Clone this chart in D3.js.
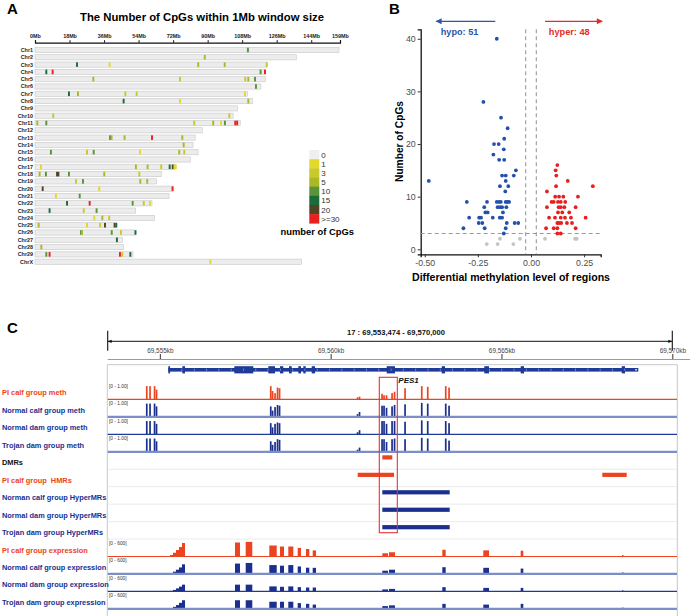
<!DOCTYPE html>
<html><head><meta charset="utf-8">
<script src="https://cdn.jsdelivr.net/npm/d3@7"></script>
<style>body{margin:0;background:#fff} svg{display:block;font-family:"Liberation Sans",Arial,Helvetica,sans-serif}</style>
</head><body><svg id="c" width="694" height="616"></svg>
<script>
// ================= DATA =================
// Panel A
const chromosomes = ["Chr1","Chr2","Chr3","Chr4","Chr5","Chr6","Chr7","Chr8","Chr9","Chr10","Chr11","Chr12","Chr13","Chr14","Chr15","Chr16","Chr17","Chr18","Chr19","Chr20","Chr21","Chr22","Chr23","Chr24","Chr25","Chr26","Chr27","Chr28","Chr29","ChrX"];
const chromLengthsMb = [158.5,136.2,121.0,120.0,120.1,117.8,110.7,113.3,105.5,103.3,107.0,87.2,83.5,82.4,85.0,81.0,73.2,65.8,63.4,72.0,69.9,61.0,52.5,62.3,42.4,52.0,45.6,46.1,51.1,139.0];
const axisTicksMb = [0,18,36,54,72,90,108,126,144,159];
const legendLabels = ["0","1","3","5","10","15","20",">=30"];
const legendColors = ["#efefef","#e3d92a","#c8c92a","#a9b824","#5a9338","#1d6b3b","#4f4423","#e8201f"];
const markChr = ["Chr1","Chr2","Chr3","Chr3","Chr3","Chr3","Chr3","Chr4","Chr4","Chr4","Chr4","Chr5","Chr5","Chr5","Chr5","Chr5","Chr6","Chr7","Chr7","Chr7","Chr7","Chr7","Chr8","Chr8","Chr8","Chr10","Chr10","Chr11","Chr11","Chr11","Chr11","Chr11","Chr11","Chr11","Chr11","Chr13","Chr13","Chr13","Chr13","Chr13","Chr14","Chr15","Chr15","Chr15","Chr15","Chr15","Chr15","Chr17","Chr17","Chr17","Chr17","Chr17","Chr17","Chr17","Chr17","Chr18","Chr18","Chr18","Chr18","Chr18","Chr18","Chr18","Chr19","Chr19","Chr19","Chr19","Chr20","Chr20","Chr20","Chr21","Chr21","Chr22","Chr22","Chr22","Chr22","Chr22","Chr23","Chr23","Chr23","Chr24","Chr24","Chr24","Chr25","Chr25","Chr25","Chr25","Chr25","Chr25","Chr26","Chr26","Chr26","Chr26","Chr26","Chr27","Chr28","Chr29","Chr29","Chr29","Chr29","Chr29","ChrX"];
const markPosMb = [110.5,88.0,21.4,38.4,84.6,98.4,120.3,5.4,8.7,117.1,119.4,29.9,75.1,109.1,110.7,114.2,114.7,17.2,21.9,46.6,52.5,109.0,45.7,75.1,110.7,9.0,100.8,0.7,5.4,82.5,92.4,96.5,98.5,103.9,104.9,38.6,39.4,46.2,60.5,76.3,77.0,7.8,26.6,30.1,54.2,74.7,77.3,2.6,52.1,58.2,65.3,69.7,71.3,72.3,72.9,1.9,5.2,11.0,11.7,17.2,35.6,53.9,20.9,24.5,54.4,58.0,3.5,33.0,71.2,10.4,22.8,16.2,28.0,50.4,56.2,59.4,7.1,24.9,31.6,30.4,34.6,38.2,1.4,26.6,33.5,36.0,41.0,41.9,23.5,24.0,39.5,44.3,51.9,42.2,2.8,5.4,7.1,43.8,45.0,49.2,90.9];
const markLevel = [4,3,5,1,3,3,2,5,7,4,7,3,2,2,3,4,4,5,3,2,2,1,5,1,3,2,2,3,4,2,3,1,4,7,7,4,3,3,7,3,3,4,2,4,1,3,2,1,3,3,2,5,6,1,1,3,4,6,6,4,3,2,2,4,3,3,6,1,7,1,4,5,7,4,2,1,5,2,4,1,3,2,3,1,2,6,6,5,4,3,4,2,5,5,3,4,7,7,2,5,1];

// Panel B
const hypoX = [-0.161,-0.224,-0.141,-0.110,-0.126,-0.174,-0.152,-0.128,-0.177,-0.150,-0.126,-0.071,-0.481,-0.136,-0.119,-0.081,-0.119,-0.146,-0.107,-0.121,-0.302,-0.207,-0.161,-0.150,-0.142,-0.119,-0.111,-0.103,-0.220,-0.157,-0.146,-0.136,-0.116,-0.215,-0.204,-0.132,-0.291,-0.244,-0.235,-0.180,-0.147,-0.136,-0.246,-0.229,-0.114,-0.077,-0.060,-0.318,-0.218,-0.119,-0.128];
const hypoY = [40,28,25,23,21,20,20,19,18,17,17,15,13,14,14,14,13,12,12,11,9,9,9,9,9,9,9,9,8,8,8,8,8,7,7,7,6,6,6,6,6,6,5,5,5,5,5,4,4,4,3];
const hyperX = [0.124,0.116,0.119,0.173,0.118,0.291,0.075,0.114,0.132,0.152,0.221,0.097,0.107,0.127,0.140,0.161,0.075,0.130,0.140,0.157,0.210,0.127,0.147,0.180,0.085,0.113,0.140,0.160,0.188,0.257,0.124,0.132,0.142,0.169,0.193,0.071,0.107,0.124,0.210,0.124,0.140];
const hyperY = [16,15,14,13,12,12,11,10,10,10,10,9,9,9,9,9,8,8,8,8,8,7,7,7,6,6,6,6,6,6,5,5,5,5,5,4,4,4,4,3,3];
const lowX = [-0.146,-0.208,-0.157,-0.083,-0.052,0.066,0.207,0.215];
const lowY = [2,1,1,1,2,2,2,2];
const xTicksB = [-0.5,-0.25,0,0.25];
const yTicksB = [0,10,20,30,40];
const thresholdsX = [-0.025,0.025];
const thresholdY = 3;
const hypoCount = 51, hyperCount = 48;

// Panel C
const regionStart = 69553474, regionEnd = 69570000, regionChr = "17";
const rulerTicks = [69555000,69560000,69565000,69570000];
const geneName = "PES1";
const geneStart = 69555248, geneEnd = 69569005;
const exonStart = [69555248,69555658,69557180,69558175,69558517,69558781,69559053,69559199,69559445,69561640,69563250,69564497,69565562,69568519];
const exonEnd   = [69555300,69555737,69557736,69558371,69558614,69558860,69559132,69559270,69559542,69561883,69563347,69564635,69565659,69568616];
const trackNames = ["PI calf group meth","Normal calf group meth","Normal dam group meth","Trojan dam group meth","DMRs","PI calf group  HMRs","Norman calf group HyperMRs","Normal dam group HyperMRs","Trojan dam group HyperMRs","PI calf group expression","Normal calf group expression","Normal dam group expression","Trojan dam group expression"];
const trackGroup = ["PI","N","N","N","K","PI","N","N","N","PI","N","N","N"];
const methPos = [69554616,69554712,69554844,69554902,69558245,69558298,69558371,69558444,69558503,69560786,69560844,69561503,69561561,69561634,69561796,69561869,69562176,69562665,69562840,69563367,69563464];
const methPI = [0.95,0.95,0.95,0.70,0.95,0.60,0.45,0.85,0.80,0.15,0.20,0.40,0.30,0.30,0.45,0.55,0.80,0.95,0.90,0.95,0.85];
const methNC = [0.95,0.95,0.95,0.75,0.75,0.45,0.70,0.85,0.80,0.20,0.35,0.80,0.80,0.65,0.75,0.85,0.90,1.00,0.95,0.95,0.80];
const methND = [0.95,0.95,0.95,0.75,0.80,0.50,0.75,0.85,0.80,0.15,0.30,0.95,0.95,0.75,0.95,0.95,0.90,1.00,0.95,0.95,0.80];
const methTD = [0.95,0.95,0.95,0.75,0.75,0.50,0.70,0.90,0.85,0.15,0.30,0.90,0.90,0.70,0.90,0.95,0.90,1.00,0.95,0.95,0.80];
const exprStart = [69555298,69555385,69555473,69555561,69555649,69557200,69557513,69558204,69558517,69558760,69559035,69559278,69559474,69561512,69561708,69563268,69564468,69565562,69568528];
const exprEnd   = [69555385,69555473,69555561,69555649,69555737,69557346,69557706,69558421,69558634,69558907,69559132,69559375,69559571,69561678,69561883,69563367,69564635,69565639,69568572];
const exprPI = [60,150,260,380,540,560,585,440,400,400,345,300,245,130,170,270,245,230,60];
const exprNC = [30,90,170,260,385,415,440,355,330,355,300,250,245,130,170,270,245,215,60];
const exprND = [20,60,120,190,270,270,270,200,185,200,170,155,155,80,100,170,140,140,40];
const exprTD = [25,80,150,240,345,345,345,285,285,285,230,200,170,110,140,200,170,200,50];
const dmrStart = [69561512], dmrEnd = [69561804];
const hmrPIStart = [69560792,69567951], hmrPIEnd = [69561854,69568665];
const hyperStart = [69561512], hyperEnd = [69563484];
const highlightStart = 69561424, highlightEnd = 69561951;

// ================= DRAW =================
const svg = d3.select("#c");
svg.append("rect").attr("width",694).attr("height",616).attr("fill","#fff");

// ---------- Panel A ----------
const gA = svg.append("g");
gA.append("text").attr("x",7).attr("y",14).attr("font-size",15).attr("font-weight","bold").text("A");
gA.append("text").attr("x",202).attr("y",20.5).attr("text-anchor","middle").attr("font-size",11.5)
  .attr("font-weight","bold").attr("textLength",244).attr("lengthAdjust","spacingAndGlyphs")
  .text("The Number of CpGs within 1Mb window size");
const xA = d3.scaleLinear().domain([0,159]).range([35,340]);
const yA = d3.scalePoint().domain(chromosomes).range([50,261.7]);
const axA = gA.append("g").attr("transform","translate(0,42.7)")
  .call(d3.axisTop(xA).tickValues(axisTicksMb).tickSize(2.5).tickPadding(2.5).tickFormat(d=>d+"Mb"));
axA.select(".domain").attr("stroke","#111").attr("stroke-width",1.2);
axA.selectAll(".tick line").attr("stroke","#111");
axA.selectAll("text").attr("font-size",5.4).attr("font-weight","bold").attr("fill","#222").attr("font-family",null);
const lenOf = Object.fromEntries(chromosomes.map((c,i)=>[c,chromLengthsMb[i]]));
gA.selectAll("rect.chr").data(chromosomes).enter().append("rect")
  .attr("x",xA(0)).attr("width",c=>xA(lenOf[c])-xA(0))
  .attr("y",c=>yA(c)-2.6).attr("height",5.2)
  .attr("fill","#ececec").attr("stroke","#c9c9c9").attr("stroke-width",0.6);
gA.selectAll("text.chr").data(chromosomes).enter().append("text")
  .attr("x",33).attr("y",c=>yA(c)+1.9).attr("text-anchor","end")
  .attr("font-size",5.4).attr("font-weight","bold").attr("fill","#222").text(c=>c);
const marks = markChr.map((c,i)=>({c,p:markPosMb[i],l:markLevel[i]}));
gA.selectAll("rect.mk").data(marks).enter().append("rect")
  .attr("x",d=>xA(d.p)).attr("width",d=>Math.max(1.6,xA(d.p+1)-xA(d.p)))
  .attr("y",d=>yA(d.c)-2.3).attr("height",4.6)
  .attr("fill",d=>legendColors[d.l]);
// legend
const lg = gA.append("g");
const yL = d3.scaleBand().domain(legendLabels).range([150,223.3]);
lg.selectAll("rect").data(legendLabels).enter().append("rect")
  .attr("x",309.3).attr("width",10).attr("y",d=>yL(d)).attr("height",yL.bandwidth()+0.3)
  .attr("fill",(d,i)=>legendColors[i]);
lg.selectAll("text").data(legendLabels).enter().append("text")
  .attr("x",321.3).attr("y",d=>yL(d)+yL.bandwidth()/2+3).attr("font-size",8).attr("fill","#333").text(d=>d);
lg.append("text").attr("x",280.5).attr("y",235).attr("font-size",9.4).attr("font-weight","bold").text("number of CpGs");

// ---------- Panel B ----------
const gB = svg.append("g");
gB.append("text").attr("x",389).attr("y",14).attr("font-size",15).attr("font-weight","bold").text("B");
const xB = d3.scaleLinear().domain([-0.519,0.328]).range([420.7,600.7]);
const yB = d3.scaleLinear().domain([-0.95,41.8]).range([254.3,29.3]);
const fmt = d=>d3.format(".2f")(d).replace("\u2212","-");
const axBx = gB.append("g").attr("transform","translate(0,254.3)")
  .call(d3.axisBottom(xB).tickValues(xTicksB).tickSize(3).tickPadding(2).tickFormat(fmt));
const axBy = gB.append("g").attr("transform","translate(420.7,0)")
  .call(d3.axisLeft(yB).tickValues(yTicksB).tickSize(3).tickPadding(2));
[axBx,axBy].forEach(a=>{
  a.select(".domain").attr("stroke","#111").attr("stroke-width",1.3);
  a.selectAll(".tick line").attr("stroke","#333");
  a.selectAll("text").attr("font-size",8.8).attr("fill","#4d4d4d").attr("font-family",null);
});
// threshold lines
gB.selectAll("line.vt").data(thresholdsX).enter().append("line")
  .attr("x1",d=>xB(d)).attr("x2",d=>xB(d)).attr("y1",yB(41.8)).attr("y2",yB(-0.95))
  .attr("stroke","#9a9a9a").attr("stroke-width",1.1).attr("stroke-dasharray","4,3");
gB.append("line").attr("x1",xB(-0.519)).attr("x2",xB(0.328)).attr("y1",yB(thresholdY)).attr("y2",yB(thresholdY))
  .attr("stroke","#9a9a9a").attr("stroke-width",1.1).attr("stroke-dasharray","4,3");
const ptsB = [
  ...lowX.map((x,i)=>({x,y:lowY[i],c:"#c4c4c4"})),
  ...hypoX.map((x,i)=>({x,y:hypoY[i],c:"#2350ad"})),
  ...hyperX.map((x,i)=>({x,y:hyperY[i],c:"#e81e1e"}))];
gB.selectAll("circle").data(ptsB).enter().append("circle")
  .attr("cx",d=>xB(d.x)).attr("cy",d=>yB(d.y)).attr("r",1.9).attr("fill",d=>d.c);
// arrows
const defs = svg.append("defs");
[["ab","#2d55a8"],["ar","#e52a2a"]].forEach(([id,col])=>{
  defs.append("marker").attr("id",id).attr("viewBox","0 0 10 10").attr("refX",9).attr("refY",5)
   .attr("markerWidth",6).attr("markerHeight",5).attr("orient","auto")
   .append("path").attr("d","M0,0L10,5L0,10z").attr("fill",col);
});
gB.append("line").attr("x1",xB(-0.168)).attr("x2",xB(-0.446)).attr("y1",21.3).attr("y2",21.3)
  .attr("stroke","#2d55a8").attr("stroke-width",1.2).attr("marker-end","url(#ab)");
gB.append("line").attr("x1",xB(0.066)).attr("x2",xB(0.335)).attr("y1",21.3).attr("y2",21.3)
  .attr("stroke","#e52a2a").attr("stroke-width",1.2).attr("marker-end","url(#ar)");
gB.append("text").attr("x",xB(-0.425)).attr("y",35.3).attr("font-size",9.2).attr("font-weight","bold")
  .attr("fill","#2d55a8").text("hypo: "+hypoCount);
gB.append("text").attr("x",xB(0.084)).attr("y",35.3).attr("font-size",9.2).attr("font-weight","bold")
  .attr("fill","#e52a2a").text("hyper: "+hyperCount);
gB.append("text").attr("transform","translate(403,141.5) rotate(-90)").attr("text-anchor","middle")
  .attr("font-size",10.2).attr("font-weight","bold").text("Number of CpGs");
gB.append("text").attr("x",511).attr("y",280.5).attr("text-anchor","middle")
  .attr("font-size",10.2).attr("font-weight","bold").attr("textLength",198).attr("lengthAdjust","spacingAndGlyphs")
  .text("Differential methylation level of regions");

// ---------- Panel C ----------
const gC = svg.append("g");
gC.append("text").attr("x",7).attr("y",333).attr("font-size",15).attr("font-weight","bold").text("C");
const xC = d3.scaleLinear().domain([regionStart,regionEnd]).range([107.7,672.3]);
const BLUE = "#1a2f8e", RED = "#ec4420", LBLUE = "#7d8dc6";
// ruler
[regionStart,regionEnd].forEach(v=>gC.append("line").attr("x1",xC(v)).attr("x2",xC(v)).attr("y1",330.7).attr("y2",350.7).attr("stroke","#111").attr("stroke-width",1.1));
defs.append("marker").attr("id","rk").attr("viewBox","0 0 10 10").attr("refX",10).attr("refY",5)
  .attr("markerWidth",4).attr("markerHeight",4).attr("orient","auto-start-reverse")
  .append("path").attr("d","M0,1L10,5L0,9z").attr("fill","#111");
gC.append("line").attr("x1",xC(regionStart)).attr("x2",xC(regionEnd)).attr("y1",341.3).attr("y2",341.3)
  .attr("stroke","#111").attr("stroke-width",1).attr("marker-start","url(#rk)").attr("marker-end","url(#rk)");
gC.append("text").attr("x",(xC(regionStart)+xC(regionEnd))/2+6).attr("y",334.5).attr("text-anchor","middle")
  .attr("font-size",7.6).attr("font-weight","bold").attr("fill","#111")
  .text(regionChr+" : "+d3.format(",")(regionStart)+" - "+d3.format(",")(regionEnd));
const axC = gC.append("g").attr("transform","translate(0,359.5)")
  .call(d3.axisTop(xC).tickValues(rulerTicks).tickSize(5.5).tickPadding(1.5).tickFormat(d=>d3.format(",")(d/1000)+"kb"));
axC.select(".domain").remove();
axC.selectAll(".tick line").attr("stroke","#333");
axC.selectAll("text").attr("font-size",6.4).attr("fill","#444").attr("font-family",null);
gC.append("line").attr("x1",107.7).attr("x2",690).attr("y1",359.5).attr("y2",359.5).attr("stroke","#9a9a9a").attr("stroke-width",1);
// frame
gC.append("path").attr("d","M107.3,616V364.7H677.3V616").attr("fill","none").attr("stroke","#c8c8c8").attr("stroke-width",1);
// gene
gC.append("rect").attr("x",xC(geneStart)).attr("width",xC(geneEnd)-xC(geneStart)).attr("y",368).attr("height",3.6).attr("fill","#1e3b99");
gC.selectAll("rect.ex").data(exonStart.map((s,i)=>[s,exonEnd[i]])).enter().append("rect")
  .attr("x",d=>xC(d[0])).attr("width",d=>Math.max(1.5,xC(d[1])-xC(d[0]))).attr("y",366.2).attr("height",7.2).attr("fill","#1e3b99");
const arrowTicks = d3.range(geneStart+400,geneEnd-200,360);
gC.selectAll("line.st").data(arrowTicks).enter().append("line")
  .attr("x1",d=>xC(d)).attr("x2",d=>xC(d)).attr("y1",368.6).attr("y2",371).attr("stroke","#8ea0d8").attr("stroke-width",0.7);
gC.append("rect").attr("x",xC(geneEnd)-3).attr("y",369).attr("width",1.5).attr("height",1.5).attr("fill","#fff");
// tracks
const rowH = 17.45, row0 = 382;
const rowTop = i => row0 + rowH*i, rowBot = i => row0 + rowH*(i+1);
const colOf = g => g==="PI"?RED:(g==="N"?BLUE:"#111");
gC.selectAll("text.tn").data(trackNames).enter().append("text")
  .attr("x",2).attr("y",(d,i)=>rowBot(i)-4).attr("font-size",7.4).attr("font-weight","bold")
  .attr("fill",(d,i)=>colOf(trackGroup[i])).style("white-space","pre").text(d=>d);
// separators for feature tracks
[4,5,6,7,8].forEach(i=>gC.append("line").attr("x1",107.7).attr("x2",677).attr("y1",rowBot(i)).attr("y2",rowBot(i)).attr("stroke","#e6e6e6").attr("stroke-width",0.8));
const baseStyles = [[RED,1.2],[LBLUE,2.2],["#1e3b99",1.3],[LBLUE,2.2]];
// meth tracks
const methSets = [methPI,methNC,methND,methTD];
const hMeth = d3.scaleLinear().domain([0,1]).range([0,14]);
methSets.forEach((vals,k)=>{
  const i = k, base = rowBot(i);
  gC.append("text").attr("x",109).attr("y",rowTop(i)+5.8).attr("font-size",4.8).attr("fill","#333").text("[0 - 1.00]");
  gC.append("g").selectAll("rect").data(methPos.map((p,j)=>[p,vals[j]])).enter().append("rect")
    .attr("x",d=>xC(d[0])-0.8).attr("width",1.7).attr("y",d=>base-hMeth(d[1])).attr("height",d=>hMeth(d[1]))
    .attr("fill",k===0?RED:BLUE);
  gC.append("line").attr("x1",107.7).attr("x2",677).attr("y1",base).attr("y2",base)
    .attr("stroke",baseStyles[k][0]).attr("stroke-width",baseStyles[k][1]);
});
// expression tracks
const exprSets = [exprPI,exprNC,exprND,exprTD];
const hExpr = d3.scaleLinear().domain([0,600]).range([0,15]);
exprSets.forEach((vals,k)=>{
  const i = 9+k, base = rowBot(i);
  gC.append("text").attr("x",109).attr("y",rowTop(i)+5.8).attr("font-size",4.8).attr("fill","#333").text("[0 - 600]");
  gC.append("g").selectAll("rect").data(exprStart.map((s,j)=>[s,exprEnd[j],vals[j]])).enter().append("rect")
    .attr("x",d=>xC(d[0])).attr("width",d=>Math.max(1.2,xC(d[1])-xC(d[0]))).attr("y",d=>base-hExpr(d[2])).attr("height",d=>hExpr(d[2]))
    .attr("fill",k===0?RED:BLUE);
  gC.append("line").attr("x1",107.7).attr("x2",677).attr("y1",base).attr("y2",base)
    .attr("stroke",baseStyles[k][0]).attr("stroke-width",baseStyles[k][1]);
});
// feature tracks
const featSets = [[4,dmrStart,dmrEnd,RED],[5,hmrPIStart,hmrPIEnd,RED],[6,hyperStart,hyperEnd,BLUE],[7,hyperStart,hyperEnd,BLUE],[8,hyperStart,hyperEnd,BLUE]];
featSets.forEach(([i,st,en,col])=>{
  gC.append("g").selectAll("rect").data(st.map((s,j)=>[s,en[j]])).enter().append("rect")
    .attr("x",d=>xC(d[0])).attr("width",d=>xC(d[1])-xC(d[0])).attr("y",rowTop(i)+3.5).attr("height",4.2).attr("fill",col);
});
// highlight box + gene label
gC.append("rect").attr("x",xC(highlightStart)).attr("width",xC(highlightEnd)-xC(highlightStart))
  .attr("y",377.3).attr("height",155.4).attr("fill","none").attr("stroke","#e8323a").attr("stroke-width",1.1);
gC.append("text").attr("x",xC(highlightEnd)+1).attr("y",383).attr("font-size",8).attr("font-weight","bold")
  .attr("font-style","italic").attr("fill","#111").text(geneName);
</script></body></html>
